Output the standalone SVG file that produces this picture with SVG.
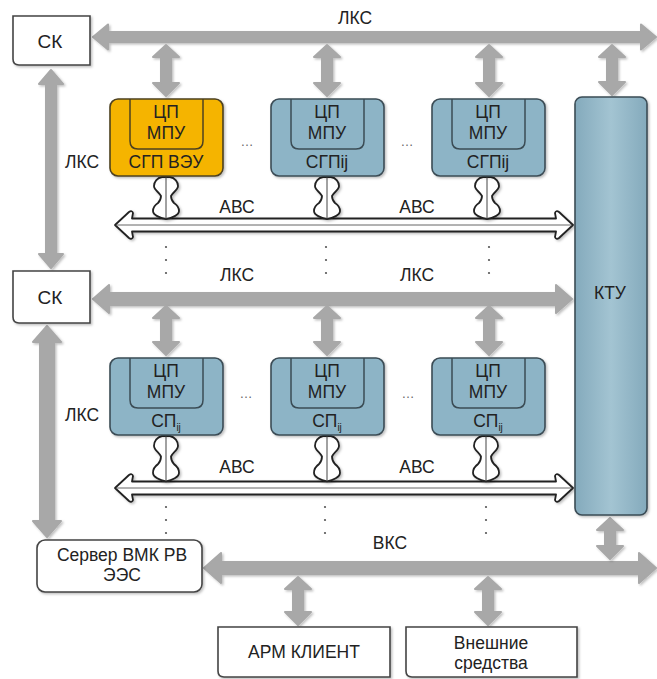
<svg xmlns="http://www.w3.org/2000/svg" xmlns:xlink="http://www.w3.org/1999/xlink" width="657" height="679" viewBox="0 0 657 679">
<defs>
<style>
text{font-family:"Liberation Sans",Arial,sans-serif;fill:#222;text-anchor:middle}
.t17{font-size:17.5px}
.t19{font-size:19px}
.sub{font-size:10px}
.ell{font-size:13px;fill:#666}
.gray{fill:#a8a8a8;stroke:#a8a8a8;stroke-width:2;stroke-linejoin:round;filter:url(#sh)}
.box{fill:#fff;stroke:#444;stroke-width:1.6;filter:url(#sh)}
.blue{fill:#8db4c6;stroke:#3b4c55;stroke-width:1.6;filter:url(#sh)}
.yel{fill:#f5b400;stroke:#4d4120;stroke-width:1.6;filter:url(#sh)}
.inner{fill:none;stroke:#3b4c55;stroke-width:1.5}
.inner-y{fill:none;stroke:#4d4120;stroke-width:1.5}
.abc{fill:#fff;stroke:#222;stroke-width:1.8;stroke-linejoin:round;filter:url(#sh)}
.mid{stroke:#666;stroke-width:1;fill:none}
.dot{fill:#555}
</style>
<filter id="sh" x="-10%" y="-10%" width="130%" height="130%">
<feDropShadow dx="1.5" dy="1.5" stdDeviation="1.2" flood-color="#000" flood-opacity="0.25"/>
</filter>
<linearGradient id="ktu" x1="0" y1="0" x2="1" y2="0">
<stop offset="0" stop-color="#84aabc"/>
<stop offset="0.5" stop-color="#a3c4d2"/>
<stop offset="1" stop-color="#84aabc"/>
</linearGradient>
<g id="abcbus">
<path class="abc" d="M115,225 L129,212 Q132,210 133,213 L132,218.5 L556,218.5 L555,213 Q556,210 559,212 L573,225 L559,238 Q556,240 555,237 L556,231.5 L132,231.5 L133,237 Q132,240 129,238 Z"/>
<path class="mid" d="M117,225 L571,225"/>
</g>
<g id="wave">
<path class="abc" d="M0,0 L4,0 C9,1 12,5 12,9 C12,13 7,15 5,19 C5,22 6,24 8,26 C11,28 13,31 13,34 C13,38 6,41 0,42 C-6,41 -13,38 -13,34 C-13,31 -11,28 -8,26 C-6,24 -5,22 -5,19 C-7,15 -12,13 -12,9 C-12,5 -9,1 -4,0 Z"/>
<path class="mid" d="M0,0 L0,42" style="stroke:#444"/>
</g>
</defs>
<rect width="657" height="679" fill="#fff"/>

<g id="connectors">
<path class="gray" d="M93,37 L108,24.5 L108,32 L641,32 L641,24.5 L656,37 L641,49.5 L641,42 L108,42 L108,49.5 Z"/>
<path class="gray" d="M93,299 L109,285 L109,293 L556,293 L556,285 L572,299 L556,313 L556,305 L109,305 L109,313 Z"/>
<path class="gray" d="M204,568 L221,553 L221,562 L639,562 L639,553 L656,568 L639,583 L639,574 L221,574 L221,583 Z"/>
<path class="gray" d="M51,70 L63,84 L56,84 L56,254 L63,254 L51,268 L39,254 L46,254 L46,84 L39,84 Z"/>
<path class="gray" d="M47,326 L61,342 L54,342 L54,521 L61,521 L47,537 L33,521 L40,521 L40,342 L33,342 Z"/>
<path class="gray" d="M166,45 L179,57 L171,57 L171,83 L179,83 L166,96 L153,83 L161,83 L161,57 L153,57 Z"/>
<path class="gray" d="M327,45 L340,57 L332,57 L332,83 L340,83 L327,96 L314,83 L322,83 L322,57 L314,57 Z"/>
<path class="gray" d="M489,45 L502,57 L494,57 L494,83 L502,83 L489,96 L476,83 L484,83 L484,57 L476,57 Z"/>
<path class="gray" d="M612,45 L625,57 L617,57 L617,82 L625,82 L612,95 L599,82 L607,82 L607,57 L599,57 Z"/>
<path class="gray" d="M166,306 L179,318 L171,318 L171,342 L179,342 L166,355 L153,342 L161,342 L161,318 L153,318 Z"/>
<path class="gray" d="M327,306 L340,318 L332,318 L332,342 L340,342 L327,355 L314,342 L322,342 L322,318 L314,318 Z"/>
<path class="gray" d="M489,306 L502,318 L494,318 L494,342 L502,342 L489,355 L476,342 L484,342 L484,318 L476,318 Z"/>
<path class="gray" d="M610,518 L623,530 L615,530 L615,546 L623,546 L610,559 L597,546 L605,546 L605,530 L597,530 Z"/>
<path class="gray" d="M298,577 L311,589 L303,589 L303,612 L311,612 L298,625 L285,612 L293,612 L293,589 L285,589 Z"/>
<path class="gray" d="M488,577 L501,589 L493,589 L493,612 L501,612 L488,625 L475,612 L483,612 L483,589 L475,589 Z"/>
<use xlink:href="#abcbus"/>
<use xlink:href="#abcbus" y="263"/>
<use xlink:href="#wave" transform="translate(166,177)"/>
<use xlink:href="#wave" transform="translate(327,177)"/>
<use xlink:href="#wave" transform="translate(487,177)"/>
<use xlink:href="#wave" transform="translate(166,436) scale(1,1.08)"/>
<use xlink:href="#wave" transform="translate(327,436) scale(1,1.08)"/>
<use xlink:href="#wave" transform="translate(486,436) scale(1,1.08)"/>
</g>

<g id="labels">
<text class="t17" x="355" y="24">ЛКС</text>
<text class="t17" x="82" y="168">ЛКС</text>
<text class="t17" x="82" y="421">ЛКС</text>
<text class="t17" x="237" y="281">ЛКС</text>
<text class="t17" x="417" y="281">ЛКС</text>
<text class="t17" x="237" y="213">АВС</text>
<text class="t17" x="417" y="213">АВС</text>
<text class="t17" x="237" y="473">АВС</text>
<text class="t17" x="417" y="473">АВС</text>
<text class="t17" x="390" y="549">ВКС</text>
<text class="ell" x="247" y="146">…</text>
<text class="ell" x="407" y="146">…</text>
<text class="ell" x="246" y="398">…</text>
<text class="ell" x="408" y="398">…</text>
<circle class="dot" cx="166" cy="247" r="1.1"/><circle class="dot" cx="166" cy="260" r="1.1"/><circle class="dot" cx="166" cy="273" r="1.1"/>
<circle class="dot" cx="326" cy="247" r="1.1"/><circle class="dot" cx="326" cy="260" r="1.1"/><circle class="dot" cx="326" cy="273" r="1.1"/>
<circle class="dot" cx="489" cy="247" r="1.1"/><circle class="dot" cx="489" cy="260" r="1.1"/><circle class="dot" cx="489" cy="273" r="1.1"/>
<circle class="dot" cx="166" cy="507" r="1.1"/><circle class="dot" cx="166" cy="520" r="1.1"/><circle class="dot" cx="166" cy="533" r="1.1"/>
<circle class="dot" cx="325" cy="507" r="1.1"/><circle class="dot" cx="325" cy="520" r="1.1"/><circle class="dot" cx="325" cy="533" r="1.1"/>
<circle class="dot" cx="486" cy="507" r="1.1"/><circle class="dot" cx="486" cy="520" r="1.1"/><circle class="dot" cx="486" cy="533" r="1.1"/>
</g>

<g id="sk1">
<path class="box" d="M13,16 H90 V65 H19 Q13,65 13,59 Z"/>
<text class="t19" x="50" y="48">СК</text>
</g>
<g id="sk2">
<path class="box" d="M13,271 H90 V323 H19 Q13,323 13,317 Z"/>
<text class="t19" x="50" y="304">СК</text>
</g>

<g id="sgp-veu">
<rect class="yel" x="110" y="99" width="113" height="77" rx="8"/>
<path class="inner-y" d="M130,99 V141 Q130,149 138,149 H195 Q203,149 203,141 V99"/>
<text class="t17" x="166" y="118">ЦП</text>
<text class="t17" x="166" y="139">МПУ</text>
<text class="t17" x="166" y="168">СГП ВЭУ</text>
</g>
<g id="sgp-2">
<rect class="blue" x="271" y="99" width="113" height="77" rx="8"/>
<path class="inner" d="M291,99 V141 Q291,149 299,149 H356 Q364,149 364,141 V99"/>
<text class="t17" x="327" y="118">ЦП</text>
<text class="t17" x="327" y="139">МПУ</text>
<text class="t17" x="327" y="168">СГПij</text>
</g>
<g id="sgp-3">
<rect class="blue" x="432" y="99" width="113" height="77" rx="8"/>
<path class="inner" d="M452,99 V141 Q452,149 460,149 H517 Q525,149 525,141 V99"/>
<text class="t17" x="488" y="118">ЦП</text>
<text class="t17" x="488" y="139">МПУ</text>
<text class="t17" x="488" y="168">СГПij</text>
</g>

<g id="sp-1">
<rect class="blue" x="110" y="358" width="113" height="77" rx="8"/>
<path class="inner" d="M130,358 V400 Q130,408 138,408 H195 Q203,408 203,400 V358"/>
<text class="t17" x="166" y="377">ЦП</text>
<text class="t17" x="166" y="398">МПУ</text>
<text class="t17" x="166" y="427">СП<tspan class="sub" dy="4">ij</tspan></text>
</g>
<g id="sp-2">
<rect class="blue" x="271" y="358" width="113" height="77" rx="8"/>
<path class="inner" d="M291,358 V400 Q291,408 299,408 H356 Q364,408 364,400 V358"/>
<text class="t17" x="327" y="377">ЦП</text>
<text class="t17" x="327" y="398">МПУ</text>
<text class="t17" x="327" y="427">СП<tspan class="sub" dy="4">ij</tspan></text>
</g>
<g id="sp-3">
<rect class="blue" x="432" y="358" width="113" height="77" rx="8"/>
<path class="inner" d="M452,358 V400 Q452,408 460,408 H517 Q525,408 525,400 V358"/>
<text class="t17" x="488" y="377">ЦП</text>
<text class="t17" x="488" y="398">МПУ</text>
<text class="t17" x="488" y="427">СП<tspan class="sub" dy="4">ij</tspan></text>
</g>

<g id="ktu">
<rect x="575" y="97" width="72" height="418" rx="7" fill="url(#ktu)" stroke="#3b4c55" stroke-width="1.6" filter="url(#sh)"/>
<text class="t17" x="610" y="299">КТУ</text>
</g>

<g id="server">
<rect class="box" x="37" y="540" width="165" height="52" rx="8"/>
<text class="t17" x="122" y="561">Сервер ВМК РВ</text>
<text class="t17" x="122" y="581">ЭЭС</text>
</g>
<g id="arm">
<path class="box" d="M218,627 H390 V677 H224 Q218,677 218,671 Z"/>
<text class="t17" x="304" y="658">АРМ КЛИЕНТ</text>
</g>
<g id="ext">
<path class="box" d="M406,627 H577 V677 H412 Q406,677 406,671 Z"/>
<text class="t17" x="491" y="649">Внешние</text>
<text class="t17" x="491" y="669">средства</text>
</g>
</svg>
